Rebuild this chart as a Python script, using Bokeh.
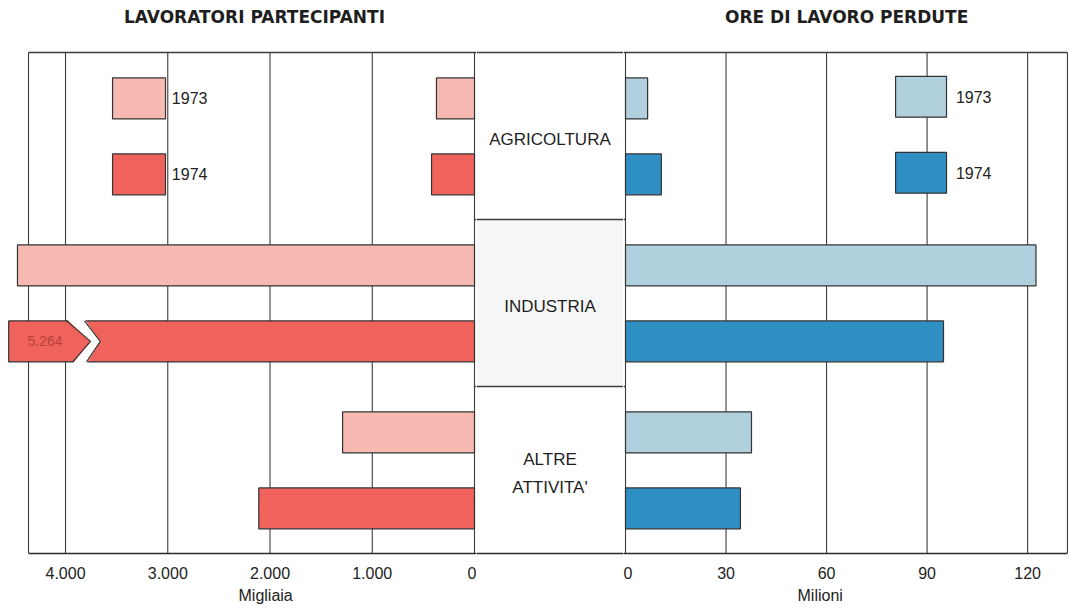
from bokeh.plotting import figure
from bokeh.layouts import row
from bokeh.models import Range1d, FixedTicker, Title, Label
from bokeh.embed import file_html
from bokeh.resources import INLINE
from bokeh.core.properties import value

# ---------------- data ----------------
categories = ["AGRICOLTURA", "INDUSTRIA", "ALTRE\nATTIVITA'"]
years = ["1973", "1974"]
workers_1973 = [372, 4470, 1290]      # migliaia
workers_1974 = [420, 5264, 2110]      # migliaia
hours_1973 = [6.6, 122.5, 37.6]       # milioni
hours_1974 = [10.7, 94.9, 34.3]       # milioni
left_ticks = [0, 1000, 2000, 3000, 4000]
left_tick_labels = ["0", "1.000", "2.000", "3.000", "4.000"]
right_ticks = [0, 30, 60, 90, 120]
right_tick_labels = ["0", "30", "60", "90", "120"]
left_title = "LAVORATORI PARTECIPANTI"
right_title = "ORE DI LAVORO PERDUTE"
left_unit = "Migliaia"
right_unit = "Milioni"

# ---------------- style ----------------
FNAME = "Liberation Sans"
FONT = value(FNAME)
C_L73, C_L74 = "#F7BAB2", "#F0625C"
C_R73, C_R74 = "#AFD0DC", "#2F8FC2"
EDGE = "#333333"
GRID = "#3c3c3c"
FRAME_H = 553
L_W, M_W, R_W = 476, 147, 446
Y0, Y1 = 2.5, -0.8114
OFF = {"1973": -0.225, "1974": 0.23}
BAR_H = 0.245
TOP, BOT = -0.5, 2.5
SEPS = [0.5, 1.5]


def base(width, xr):
    p = figure(frame_width=width, frame_height=FRAME_H, x_range=xr,
               y_range=Range1d(Y0, Y1), output_backend="svg",
               toolbar_location=None, y_axis_location=None,
               min_border_left=0, min_border_right=0, min_border_top=0,
               min_border_bottom=0, outline_line_color=None,
               background_fill_color="white", border_fill_color="white")
    p.grid.visible = False
    ax = p.xaxis[0]
    ax.major_tick_line_color = None
    ax.minor_tick_line_color = None
    ax.axis_line_color = "#2a2a2a"
    ax.axis_line_width = 1.4
    ax.major_label_text_font = FNAME
    ax.major_label_text_font_size = "16px"
    ax.major_label_text_color = "#222222"
    ax.major_label_standoff = 7
    return p


def unit_title(p, text, offset):
    t = Title(text=text, align="left", offset=offset, text_font=FNAME,
              text_font_size="16px", text_font_style="normal",
              text_color="#222222", standoff=6)
    p.add_layout(t, "below")


# ---------------- left panel ----------------
lx = Range1d(4636, -19.6)
pl = base(L_W, lx)
left_frame = 4362
pl.xaxis.ticker = FixedTicker(ticks=left_ticks)
pl.xaxis.major_label_overrides = {t: s for t, s in zip(left_ticks, left_tick_labels)}
pl.xaxis.bounds = (lx.end, left_frame)
unit_title(pl, left_unit, 238)

gx = left_ticks + [left_frame]
pl.segment(x0=gx, y0=[TOP] * len(gx), x1=gx, y1=[BOT] * len(gx), line_color=GRID, line_width=1.1)
pl.segment(x0=[left_frame], y0=[TOP], x1=[lx.end], y1=[TOP], line_color=GRID, line_width=1.4)
pl.segment(x0=[0, 0], y0=SEPS, x1=[lx.end] * 2, y1=SEPS, line_color=GRID, line_width=1.4)

cap = lx.start - 80   # longest drawable bar; longer bars are shown broken
for yr, vals, col in [("1973", workers_1973, C_L73), ("1974", workers_1974, C_L74)]:
    ys = [i + OFF[yr] for i in range(len(categories))]
    shown = [min(v, cap) for v in vals]
    pl.hbar(y=ys, left=0, right=shown, height=BAR_H, fill_color=col,
            line_color=EDGE, line_width=1.2)

# broken bar marker for values beyond the axis
brk = 3800
for yr, vals in [("1973", workers_1973), ("1974", workers_1974)]:
    for i, v in enumerate(vals):
        if v > cap:
            yc = i + OFF[yr]
            top, bot = yc - BAR_H / 2 - 0.012, yc + BAR_H / 2 + 0.012
            pl.patch(x=[brk + 190, brk - 45, brk + 130, brk - 5, brk - 140, brk + 15],
                     y=[top, yc, bot, bot, yc, top], fill_color="white", line_color=None)
            pl.line(x=[brk + 190, brk - 45, brk + 130], y=[top + 0.012, yc, bot - 0.012],
                    line_color=EDGE, line_width=1.1)
            pl.line(x=[brk + 15, brk - 140, brk - 5], y=[top + 0.012, yc, bot - 0.012],
                    line_color=EDGE, line_width=1.1)
            lab = f"{v:,}".replace(",", ".")
            pl.text(x=[brk + 400], y=[yc], text=[lab], text_align="center",
                    text_baseline="middle", text_font=FONT, text_font_size="14px",
                    text_color="#b9423d")

# legend
for yr, col in [("1973", C_L73), ("1974", C_L74)]:
    pl.rect(x=[3281], y=[OFF[yr]], width=518, height=BAR_H, fill_color=col,
            line_color=EDGE, line_width=1.2)
    pl.text(x=[2960], y=[OFF[yr]], text=[yr], text_align="left", text_baseline="middle",
            text_font=FONT, text_font_size="16px", text_color="#222222")

pl.add_layout(Label(x=2152, y=-0.71, text=left_title, text_align="center",
                    text_baseline="middle", text_font="DejaVu Sans",
                    text_font_size="17px", text_font_style="bold", text_color="#1e1e1e"))

# ---------------- middle panel ----------------
mx = Range1d(0, 1)
pm = base(M_W, mx)
pm.xaxis.ticker = FixedTicker(ticks=[])
unit_title(pm, " ", 0)
pm.quad(left=[0], right=[1], top=[SEPS[0]], bottom=[SEPS[1]], fill_color="#f6f6f6", line_color=None)
pm.segment(x0=[0, 0, 0], y0=[TOP] + SEPS, x1=[1, 1, 1], y1=[TOP] + SEPS, line_color=GRID, line_width=1.4)
pm.text(x=[0.5] * len(categories), y=[i + 0.02 for i in range(len(categories))], text=categories,
        text_align="center", text_baseline="middle", text_font=FONT,
        text_font_size="17px", text_color="#1e1e1e", text_line_height=1.5)

# ---------------- right panel ----------------
rx = Range1d(-0.6, 132.5)
pr = base(R_W, rx)
right_frame = 131.9
pr.xaxis.ticker = FixedTicker(ticks=right_ticks)
pr.xaxis.major_label_overrides = {t: s for t, s in zip(right_ticks, right_tick_labels)}
pr.xaxis.bounds = (rx.start, right_frame)
unit_title(pr, right_unit, 174)

rg = right_ticks + [right_frame]
pr.segment(x0=rg, y0=[TOP] * len(rg), x1=rg, y1=[BOT] * len(rg),
           line_color=GRID, line_width=1.1)
pr.segment(x0=[rx.start], y0=[TOP], x1=[right_frame], y1=[TOP], line_color=GRID, line_width=1.4)
pr.segment(x0=[rx.start] * 2, y0=SEPS, x1=[0, 0], y1=SEPS, line_color=GRID, line_width=1.4)

for yr, vals, col in [("1973", hours_1973, C_R73), ("1974", hours_1974, C_R74)]:
    ys = [i + OFF[yr] for i in range(len(categories))]
    pr.hbar(y=ys, left=0, right=vals, height=BAR_H, fill_color=col,
            line_color=EDGE, line_width=1.2)

for yr, col in [("1973", C_R73), ("1974", C_R74)]:
    pr.rect(x=[88.2], y=[OFF[yr] - 0.01], width=15.2, height=BAR_H, fill_color=col,
            line_color=EDGE, line_width=1.2)
    pr.text(x=[98.6], y=[OFF[yr] - 0.01], text=[yr], text_align="left", text_baseline="middle",
            text_font=FONT, text_font_size="16px", text_color="#222222")

pr.add_layout(Label(x=66, y=-0.71, text=right_title, text_align="center",
                    text_baseline="middle", text_font="DejaVu Sans",
                    text_font_size="17px", text_font_style="bold", text_color="#1e1e1e"))

layout = row(pl, pm, pr, spacing=0)
open("out.html", "w").write(file_html(layout, INLINE))
